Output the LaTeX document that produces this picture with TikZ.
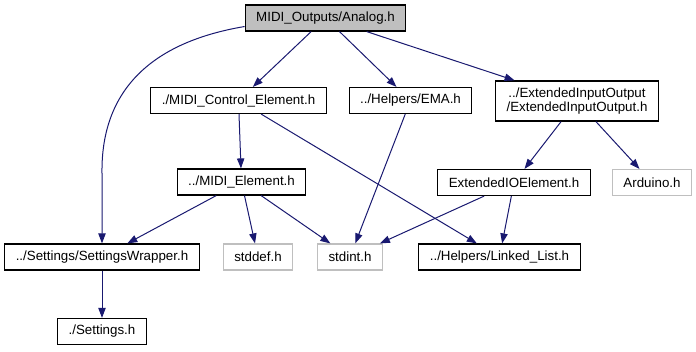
\documentclass[tikz,border=0pt]{standalone}
\usepackage{fontspec}
\setmainfont{Liberation Sans}
\usetikzlibrary{arrows.meta,calc}
\definecolor{edgeblue}{HTML}{191970}
\definecolor{grey75}{HTML}{BFBFBF}
\begin{document}
\begin{tikzpicture}[x=0.75pt,y=-0.75pt,
  file/.style={draw=black, line width=0.9pt, rectangle, inner xsep=8.25pt, inner ysep=2pt,
    minimum height=19.5pt, font=\fontsize{10}{11}\selectfont, align=center},
  extfile/.style={file, draw=grey75},
  rootfile/.style={file, fill=grey75},
  dep/.style={draw=edgeblue, line width=0.75pt, -{Triangle[length=7.5pt,width=5.5pt]}}]
  \useasboundingbox (0,0) rectangle (696,351);

  % include graph nodes, one rank per row
  \node[rootfile] (analog)   at (325.5,18)  {MIDI\_Outputs/Analog.h};

  \node[file]     (mce)      at (238.5,100.5) {./MIDI\_Control\_Element.h};
  \node[file]     (ema)      at (410.5,100.5) {../Helpers/EMA.h};
  \node[file, minimum height=30pt] (eio) at (577,101) {../ExtendedInputOutput\\/ExtendedInputOutput.h};

  \node[file]     (me)       at (241.5,182) {../MIDI\_Element.h};
  \node[file]     (eioe)     at (514,182.5) {ExtendedIOElement.h};
  \node[extfile]  (arduino)  at (652,182.5) {Arduino.h};

  \node[file]     (sw)       at (102,257)   {../Settings/SettingsWrapper.h};
  \node[extfile]  (stddef)   at (258,257)   {stddef.h};
  \node[extfile]  (stdint)   at (350,257)   {stdint.h};
  \node[file]     (ll)       at (499.5,257) {../Helpers/Linked\_List.h};

  \node[file]     (settings) at (102,331.5) {./Settings.h};

  % include edges
  \draw[dep] (analog.186) .. controls (135,45) and (101,105) .. ($(sw.north)+(0,-70)$) -- (sw.north);
  \draw[dep] (analog) -- (mce);
  \draw[dep] (analog) -- (ema);
  \draw[dep] (analog) -- (eio);

  \draw[dep] (mce) -- (me);
  \draw[dep] (mce) -- (ll);
  \draw[dep] (ema) -- (stdint);
  \draw[dep] (eio) -- (eioe);
  \draw[dep] (eio) -- (arduino);

  \draw[dep] (me) -- (sw);
  \draw[dep] (me) -- (stddef);
  \draw[dep] (me) -- (stdint);
  \draw[dep] (eioe) -- (stdint);
  \draw[dep] (eioe) -- (ll);

  \draw[dep] (sw) -- (settings);
\end{tikzpicture}
\end{document}
